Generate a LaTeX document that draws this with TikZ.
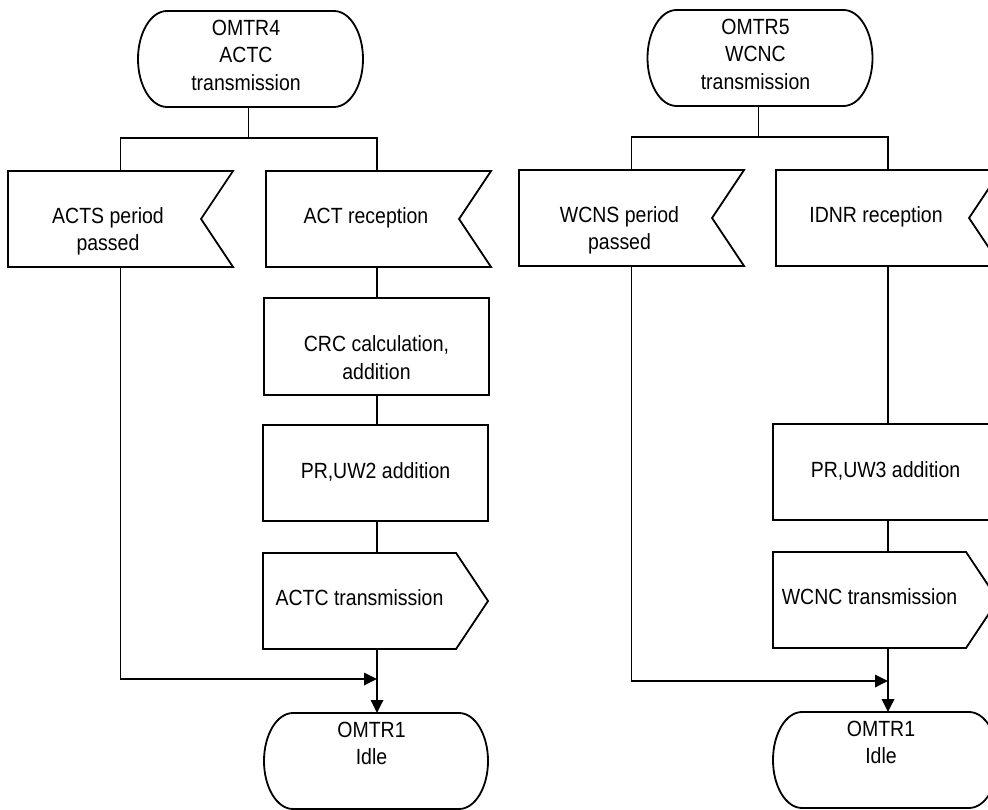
\documentclass[tikz,border=0pt]{standalone}
\usepackage{fontspec}
\setmainfont{Liberation Sans}[FakeStretch=0.886]
\usetikzlibrary{arrows.meta,calc}

\tikzset{
  box/.style={rectangle, draw=none, inner sep=0pt, outer sep=0pt, minimum width=225pt, minimum height=96pt},
  proc/.style={box, draw, line width=1.8pt},
  txt/.style={inner sep=0pt, outer sep=0pt, align=center, anchor=north, font=\fontsize{22pt}{27.5pt}\selectfont},
  conn/.style={line width=1.8pt},
  arr/.style={conn, -{Triangle[length=13pt,width=12.5pt]}},
}

\newcommand\recvoutline[1]{\draw[conn] (#1.north west) -- (#1.north east) -- ($(#1.east)+(-32,0)$) -- (#1.south east) -- (#1.south west) -- cycle;}
\newcommand\sendoutline[1]{\draw[conn] (#1.north west) -- ($(#1.north east)+(-32,0)$) -- (#1.east) -- ($(#1.south east)+(-32,0)$) -- (#1.south west) -- cycle;}
\newcommand\termoutline[1]{\draw[conn] ($(#1.north west)+(29,0)$) -- ($(#1.north east)+(-29,0)$)
   .. controls ($(#1.north east)+(-13,0)$) and ($(#1.north east)+(0,21.5)$) .. (#1.east)
   .. controls ($(#1.south east)+(0,-21.5)$) and ($(#1.south east)+(-13,0)$) .. ($(#1.south east)+(-29,0)$)
   -- ($(#1.south west)+(29,0)$)
   .. controls ($(#1.south west)+(13,0)$) and ($(#1.south west)+(0,-21.5)$) .. (#1.west)
   .. controls ($(#1.north west)+(0,21.5)$) and ($(#1.north west)+(13,0)$) .. ($(#1.north west)+(29,0)$) -- cycle;}

\begin{document}
\begin{tikzpicture}[x=1pt, y=-1pt, line join=miter]
\useasboundingbox (0,0) rectangle (988,810);
\fill[white] (0,0) rectangle (988,810);
\clip (0,0) rectangle (988,810);

% ---------------- left flow ----------------
\node[box] (t4) at (250.5,59) {};
\node[box] (acts) at (120.5,219) {};
\node[box] (act) at (378.5,219) {};
\node[proc, minimum height=97pt] (crc) at (376.5,346.5) {};
\node[proc] (pr2) at (375.5,473) {};
\node[box] (actc) at (375.5,601) {};
\node[box, minimum width=224pt] (o1l) at (376,761) {};

\termoutline{t4}
\recvoutline{acts}
\recvoutline{act}
\sendoutline{actc}
\termoutline{o1l}

\node[txt] (t4t) at (246,20) {OMTR4\\ACTC\\transmission};
\node[txt] (actst) at (108,207.5) {ACTS period\\passed};
\node[txt] (actt) at (366,207.5) {ACT reception};
\node[txt] (crct) at (376.5,336) {CRC calculation,\\addition};
\node[txt] (pr2t) at (375.5,463) {PR,UW2 addition};
\node[txt] (actct) at (359.5,590) {ACTC transmission};
\node[txt] (o1lt) at (371.5,722) {OMTR1\\Idle};

\coordinate (b4) at (248.5,138);
\coordinate (m4) at (377,679);
\draw[conn] (t4.south -| b4) -- (b4);
\draw[conn] (acts.north) -- (acts.north |- b4) -- (m4 |- b4) -- (m4 |- act.north);
\draw[conn] (m4 |- act.south) -- (m4 |- crc.north);
\draw[conn] (m4 |- crc.south) -- (m4 |- pr2.north);
\draw[conn] (m4 |- pr2.south) -- (m4 |- actc.north);
\draw[arr] (m4 |- actc.south) -- (m4 |- o1l.north);
\draw[arr] (acts.south) |- (m4);

% ---------------- right flow ----------------
\node[box] (t5) at (760,58) {};
\node[box] (wcns) at (631.5,218) {};
\node[box] (idnr) at (888.5,218) {};
\node[proc] (pr3) at (885.5,472) {};
\node[box] (wcnc) at (885.5,600) {};
\node[box] (o1r) at (885.5,760) {};

\termoutline{t5}
\recvoutline{wcns}
\recvoutline{idnr}
\sendoutline{wcnc}
\termoutline{o1r}

\node[txt] (t5t) at (755.5,19) {OMTR5\\WCNC\\transmission};
\node[txt] (wcnst) at (619.5,206.5) {WCNS period\\passed};
\node[txt] (idnrt) at (876,206.5) {IDNR reception};
\node[txt] (pr3t) at (885.5,462) {PR,UW3 addition};
\node[txt] (wcnct) at (869.5,589) {WCNC transmission};
\node[txt] (o1rt) at (881,721) {OMTR1\\Idle};

\coordinate (b5) at (758.5,137);
\coordinate (m5) at (888,681);
\draw[conn] (t5.south -| b5) -- (b5);
\draw[conn] (wcns.north) -- (wcns.north |- b5) -- (m5 |- b5) -- (m5 |- idnr.north);
\draw[conn] (m5 |- idnr.south) -- (m5 |- pr3.north);
\draw[conn] (m5 |- pr3.south) -- (m5 |- wcnc.north);
\draw[arr] (m5 |- wcnc.south) -- (m5 |- o1r.north);
\draw[arr] (wcns.south) |- (m5);
\end{tikzpicture}
\end{document}
